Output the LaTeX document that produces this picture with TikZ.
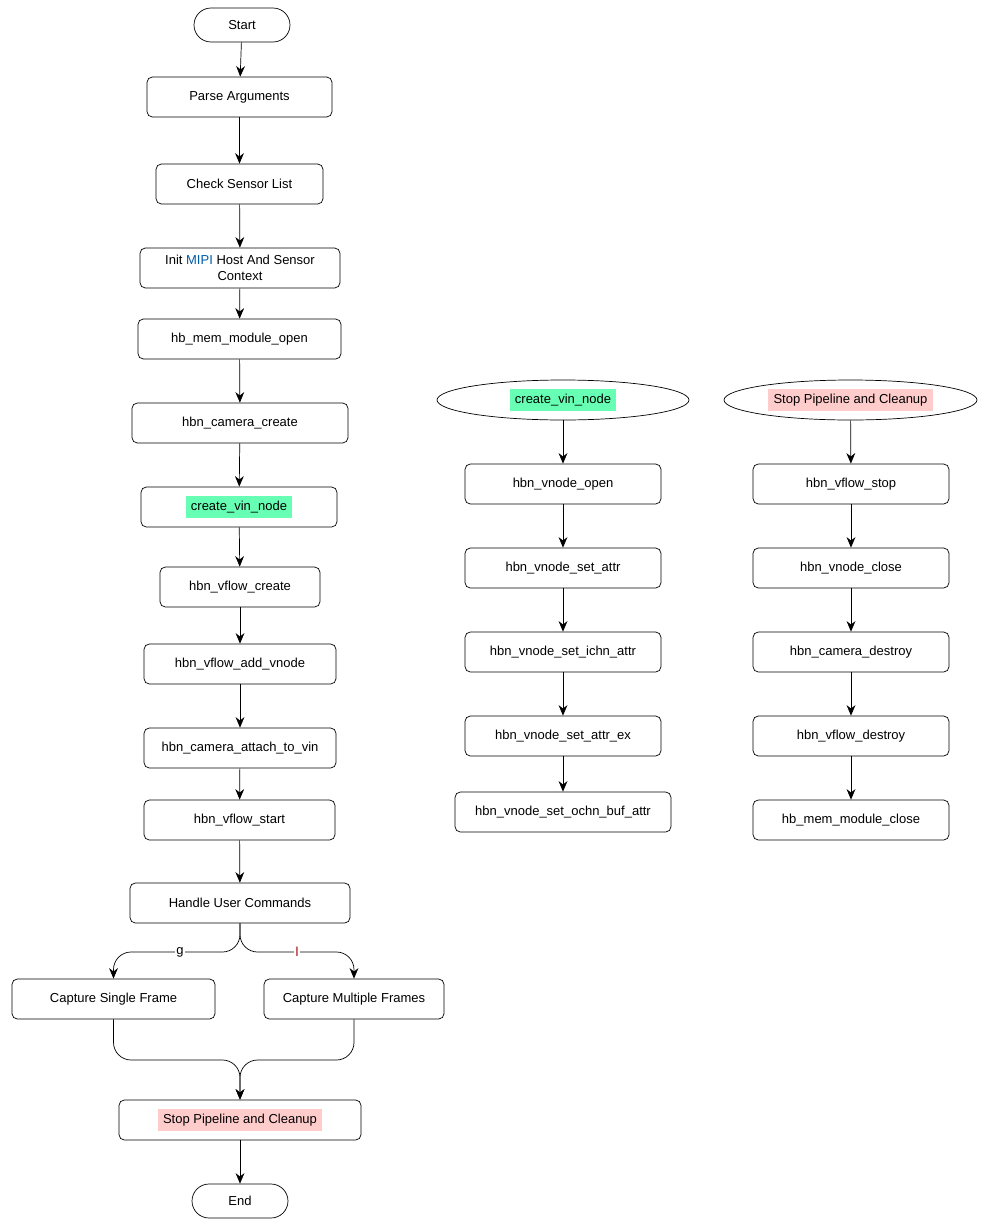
\documentclass[tikz,border=0pt]{standalone}
\usepackage{fontspec}
\setmainfont{Liberation Sans}
\usetikzlibrary{positioning}
\usetikzlibrary{shapes.geometric,arrows.meta}
\definecolor{vingreen}{HTML}{66FFB3}
\definecolor{stoppink}{HTML}{FFCCCC}
\definecolor{mipiblue}{HTML}{0058A8}
\begin{document}
\begin{tikzpicture}[x=0.02cm,y=-0.02cm,
  box/.style={draw,rounded corners=3pt,minimum height=0.8cm,font=\fontsize{7.4}{9}\selectfont,align=center,inner sep=1pt},
  term/.style={draw,rounded corners=0.34cm,minimum width=1.92cm,minimum height=0.68cm,font=\fontsize{7.4}{9}\selectfont},
  head/.style={draw,ellipse,minimum height=0.8cm,inner sep=0pt,font=\fontsize{7.4}{9}\selectfont},
  arr/.style={-{Stealth[length=6pt,width=5pt]},thin},
  lbl/.style={font=\fontsize{7.4}{9}\selectfont,fill=white,inner sep=1pt}]
 \useasboundingbox (0,0) rectangle (1000,1227);
 % main column
 \node[term] (start) at (242,25) {Start};
 \node[box,minimum width=3.7cm] (parse) at (239.5,97) {Parse Arguments};
 \node[box,minimum width=3.34cm] (check) at (239.5,184) {Check Sensor List};
 \node[box,minimum width=4cm] (init) at (240,268) {Init \textcolor{mipiblue}{MIPI} Host And Sensor\\Context};
 \node[box,minimum width=4.06cm] (memopen) at (239.5,339) {hb\_mem\_module\_open};
 \node[box,minimum width=4.32cm] (camcreate) at (240,423) {hbn\_camera\_create};
 \node[box,minimum width=3.92cm] (vinnode) at (239,507) {\colorbox{vingreen}{create\_vin\_node}};
 \node[box,minimum width=3.2cm] (flowcreate) at (240,587) {hbn\_vflow\_create};
 \node[box,minimum width=3.84cm] (addvnode) at (240,664) {hbn\_vflow\_add\_vnode};
 \node[box,minimum width=3.84cm] (attach) at (240,748) {hbn\_camera\_attach\_to\_vin};
 \node[box,minimum width=3.82cm] (flowstart) at (239.5,820) {hbn\_vflow\_start};
 \node[box,minimum width=4.4cm] (handle) at (240,903) {Handle User Commands};
 \node[box,minimum width=4.06cm] (single) at (113.5,999) {Capture Single Frame};
 \node[box,minimum width=3.6cm] (multi) at (354,999) {Capture Multiple Frames};
 \node[box,minimum width=4.84cm] (stop) at (240,1120) {\colorbox{stoppink}{Stop Pipeline and Cleanup}};
 \node[term] (end) at (240,1201) {End};
 \draw[arr] (start) -- (parse);
 \draw[arr] (parse) -- (check);
 \draw[arr] (check) -- (init);
 \draw[arr] (init) -- (memopen);
 \draw[arr] (memopen) -- (camcreate);
 \draw[arr] (camcreate) -- (vinnode);
 \draw[arr] (vinnode) -- (flowcreate);
 \draw[arr] (flowcreate) -- (addvnode);
 \draw[arr] (addvnode) -- (attach);
 \draw[arr] (attach) -- (flowstart);
 \draw[arr] (flowstart) -- (handle);
 \draw[arr,rounded corners=10pt] (handle.south) |- (177,952) -| (single.north);
 \draw[arr,rounded corners=10pt] (handle.south) |- (300,952) -| (multi.north);
 \node[lbl] (gkey) at (180,952) {g};
 \node[lbl,text=red!60!black] (lkey) at (297,952) {l};
 \draw[arr,rounded corners=10pt] (single.south) |- (177,1060) -| (stop.north);
 \draw[arr,rounded corners=10pt] (multi.south) |- (300,1060) -| (stop.north);
 \draw[arr] (stop) -- (end);
 % create_vin_node detail
 \node[head,minimum width=5.04cm] (vinhead) at (563,400) {\colorbox{vingreen}{create\_vin\_node}};
 \node[box,minimum width=3.92cm] (vnopen) at (563,484) {hbn\_vnode\_open};
 \node[box,minimum width=3.92cm] (vnattr) at (563,568) {hbn\_vnode\_set\_attr};
 \node[box,minimum width=3.92cm] (vnichn) at (563,652) {hbn\_vnode\_set\_ichn\_attr};
 \node[box,minimum width=3.92cm] (vnattrex) at (563,736) {hbn\_vnode\_set\_attr\_ex};
 \node[box,minimum width=4.32cm] (vnochn) at (563,812) {hbn\_vnode\_set\_ochn\_buf\_attr};
 \draw[arr] (vinhead) -- (vnopen);
 \draw[arr] (vnopen) -- (vnattr);
 \draw[arr] (vnattr) -- (vnichn);
 \draw[arr] (vnichn) -- (vnattrex);
 \draw[arr] (vnattrex) -- (vnochn);
 % cleanup detail
 \node[head,minimum width=5.06cm] (stophead) at (850.5,400) {\colorbox{stoppink}{Stop Pipeline and Cleanup}};
 \node[box,minimum width=3.92cm] (flowstop) at (851,484) {hbn\_vflow\_stop};
 \node[box,minimum width=3.92cm] (vnclose) at (851,568) {hbn\_vnode\_close};
 \node[box,minimum width=3.92cm] (camdestroy) at (851,652) {hbn\_camera\_destroy};
 \node[box,minimum width=3.92cm] (flowdestroy) at (851,736) {hbn\_vflow\_destroy};
 \node[box,minimum width=3.92cm] (memclose) at (851,820) {hb\_mem\_module\_close};
 \draw[arr] (stophead) -- (flowstop);
 \draw[arr] (flowstop) -- (vnclose);
 \draw[arr] (vnclose) -- (camdestroy);
 \draw[arr] (camdestroy) -- (flowdestroy);
 \draw[arr] (flowdestroy) -- (memclose);
\end{tikzpicture}
\end{document}
